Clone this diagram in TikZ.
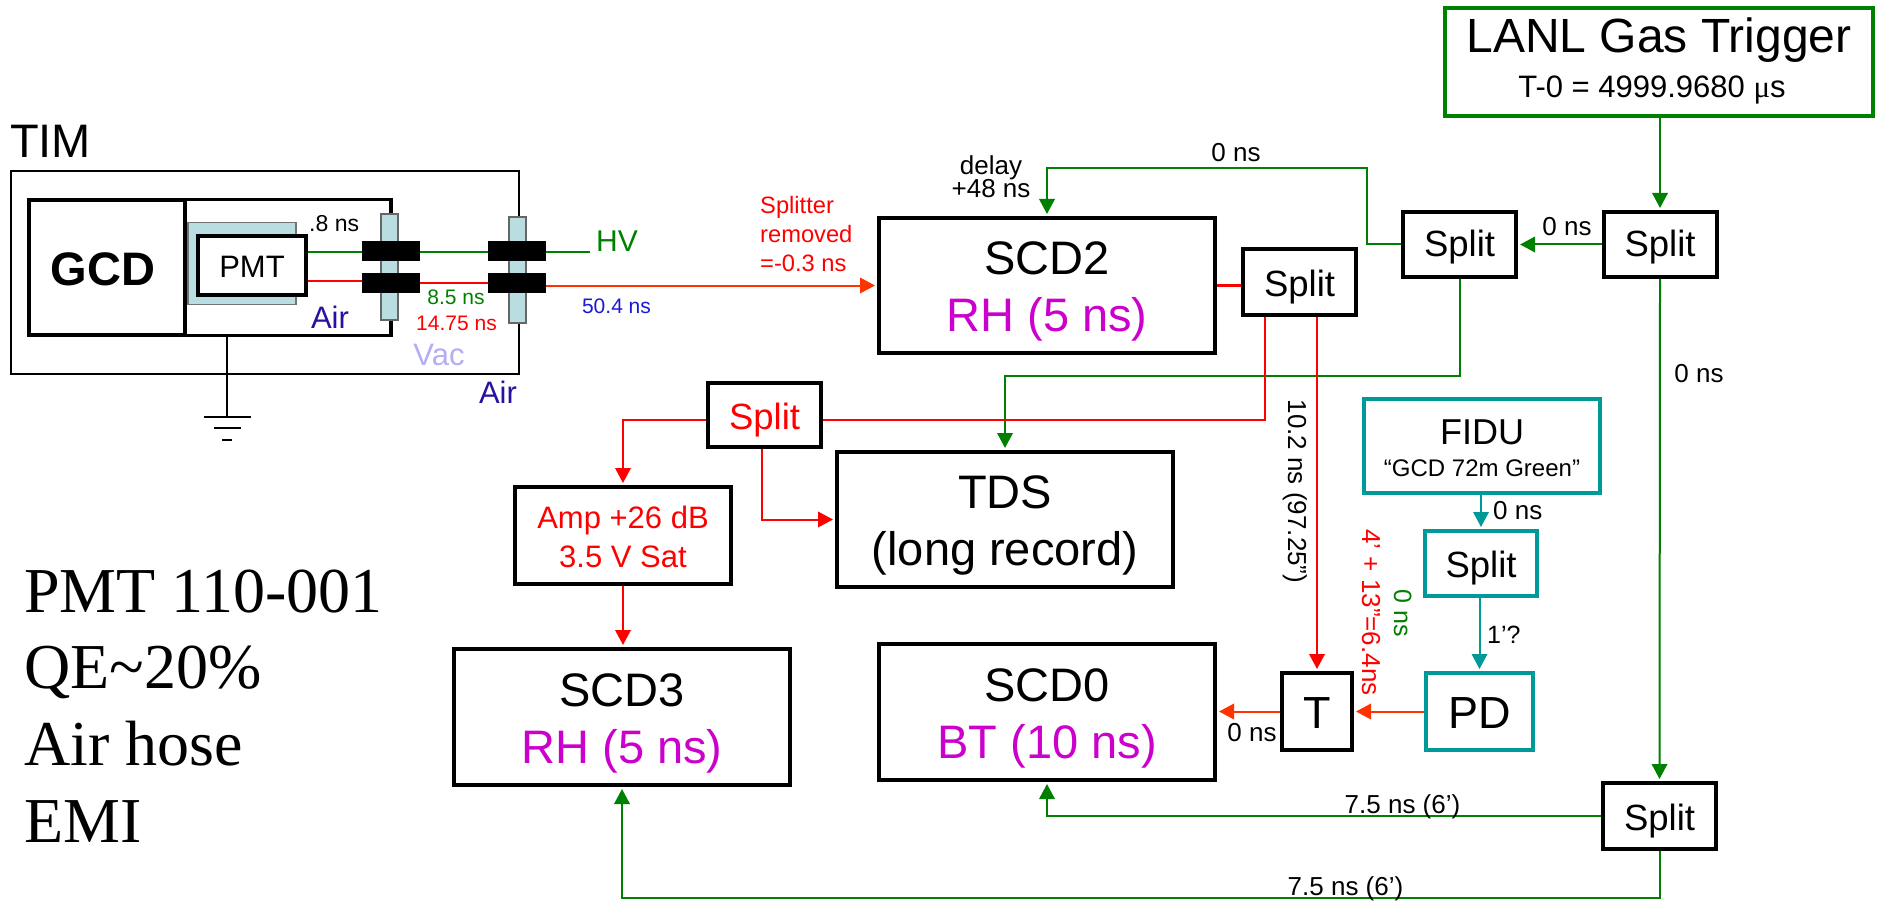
\documentclass[tikz,border=0pt]{standalone}
\usepackage{fontspec}
\setmainfont{Liberation Sans}
\newfontfamily\serifface{Liberation Serif}
\usetikzlibrary{arrows.meta,calc}
\definecolor{gr}{HTML}{008000}
\definecolor{rd}{HTML}{FF0000}
\definecolor{og}{HTML}{FF3300}
\definecolor{tl}{HTML}{009999}
\definecolor{mg}{HTML}{CC00CC}
\definecolor{nv}{HTML}{2A109F}
\definecolor{bl}{HTML}{1A1AD0}
\definecolor{vc}{HTML}{B4AEF5}
\definecolor{lb}{HTML}{B9DDE1}
\newcommand{\fs}[1]{\fontsize{#1}{#1}\selectfont}
\newcommand{\lbl}[2]{\makebox[0pt]{\raisebox{#1pt}[0pt][0pt]{#2}}}
\tikzset{
  box/.style={draw=black,line width=4pt,fill=white,inner sep=0pt,rectangle},
  tealbox/.style={box,draw=tl},
  greenbox/.style={box,draw=gr},
  splitbox/.style={box,minimum width=113pt,minimum height=65pt,font=\fs{36.5}},
  scdbox/.style={box,minimum width=336pt,minimum height=136pt,font=\fs{47}},
  bar/.style={draw=black!60,line width=2pt,fill=lb,inner sep=0pt,rectangle,minimum width=17pt},
  block/.style={fill=black,inner sep=0pt,rectangle,minimum width=58pt,minimum height=20pt},
  txt/.style={inner sep=0pt,anchor=base},
  txtw/.style={inner sep=0pt,anchor=base west},
  wire/.style={line width=2pt},
  arr/.style={wire,-{Triangle[length=15pt,width=15.5pt]},shorten >=2pt},
}
\begin{document}
\begin{tikzpicture}[x=1pt,y=-1pt]
\useasboundingbox (0,0) rectangle (1881,901);
\fill[white] (0,0) rectangle (1881,901);

% TIM housing
\coordinate (timA) at (519,216);
\coordinate (timB) at (519,324);
\draw[line width=1.8pt] (timA) -- (519,171) -- (11,171) -- (11,374) -- (519,374) -- (timB);
\node[txtw,font=\fs{47}] (tim) at (10,158) {TIM};

% GCD enclosure
\draw[line width=3.5pt] (391,213) -- (391,199.5) -- (187,199.5);
\draw[line width=3.5pt] (391,321) -- (391,335.5) -- (187,335.5);
\node[box,minimum width=156pt,minimum height=135pt,font=\bfseries\fs{47}] (gcd) at (107,267.5) {\lbl{-17.5}{\hspace*{-8pt}GCD}};
\node[inner sep=0pt,draw=black!55,line width=1.5pt,fill=lb,minimum width=108pt,minimum height=82pt] (shield) at (242,263.5) {};
\node[box,minimum width=108pt,minimum height=59pt,font=\fs{31}] (pmt) at (252,265.5) {\lbl{-11.5}{PMT}};

% Ground
\coordinate (gtop) at (227,337);
\coordinate (g0) at (227,417);
\draw[line width=1.8pt] (gtop) -- (g0);
\draw[line width=2pt] (204,417) -- (251,417) (214,428) -- (241,428) (222,440) -- (232,440);

% Feedthroughs
\node[bar,minimum height=106pt] (bara) at (389.5,267) {};
\node[bar,minimum height=106pt] (barb) at (517.5,270) {};
\node[block] (b1g) at (391,251) {};
\node[block] (b1r) at (391,283) {};
\node[block] (b2g) at (517,251) {};
\node[block] (b2r) at (517,283) {};

% HV and signal wires
\coordinate (hvend) at (590,252);
\coordinate (r1) at (308,281);
\coordinate (r2) at (362,281);
\draw[gr,wire] (pmt.east |- hvend) -- (b1g.west |- hvend);
\draw[gr,wire] (b1g.east |- hvend) -- (b2g.west |- hvend);
\draw[gr,wire] (b2g.east |- hvend) -- (hvend);
\draw[rd,wire] (r1) -- (r2);
\draw[rd,wire] (b1r.east) -- (b2r.west);

% Labels, left part
\node[txtw,gr,font=\fs{30}] (hv) at (596,252) {HV};
\node[txtw,font=\fs{23}] (t8) at (309,232) {.8 ns};
\node[txt,gr,font=\fs{21}] (t85) at (456,304) {8.5 ns};
\node[txt,rd,font=\fs{21}] (t147) at (456.5,330) {14.75 ns};
\node[txt,bl,font=\fs{21}] (t504) at (616.5,313) {50.4 ns};
\node[txt,nv,font=\fs{31}] (air1) at (330,328) {Air};
\node[txt,vc,font=\fs{31}] (vac) at (439,365) {Vac};
\node[txt,nv,font=\fs{31}] (air2) at (498,403) {Air};
\node[txtw,rd,font=\fs{23.7}] (sp1) at (760,214) {Splitter};
\node[txtw,rd,font=\fs{23.7}] (sp2) at (760,243) {removed};
\node[txtw,rd,font=\fs{23.7}] (sp3) at (760,272) {=-0.3 ns};

% Left notes
\node[txtw,font=\serifface\fs{64}] (n1) at (24,612) {PMT 110-001};
\node[txtw,font=\serifface\fs{64}] (n2) at (24,688) {QE\char`\~20\%};
\node[txtw,font=\serifface\fs{64}] (n3) at (24,765) {Air hose};
\node[txtw,font=\serifface\fs{64}] (n4) at (24,842) {EMI};

% Main boxes
\node[greenbox,minimum width=428pt,minimum height=108pt] (lanl) at (1659,62)
  {\fs{48}\lbl{9}{LANL Gas Trigger}\fs{31}\lbl{-36}{\hspace*{-14pt}T-0 = 4999.9680 {\serifface μ}s}};
\node[splitbox] (split3) at (1660,244.5) {\lbl{-12.5}{Split}};
\node[splitbox] (split2) at (1459.5,244.5) {\lbl{-12.5}{Split}};
\node[splitbox,minimum height=66pt] (split1) at (1299.5,282) {\lbl{-14}{Split}};
\node[splitbox,minimum height=66pt] (split4) at (1659.5,816) {\lbl{-14}{Split}};
\node[splitbox,minimum height=64pt,text=rd] (split5) at (764.5,415) {\lbl{-14}{Split}};
\node[scdbox,minimum height=135pt] (scd2) at (1047,285.5) {\lbl{11.5}{SCD2}\lbl{-45.5}{\color{mg}RH (5 ns)}};
\node[scdbox] (scd0) at (1047,712) {\lbl{11}{SCD0}\lbl{-46}{\color{mg}BT (10 ns)}};
\node[scdbox] (scd3) at (622,717) {\lbl{11}{SCD3}\lbl{-46}{\color{mg}RH (5 ns)}};
\node[scdbox,minimum height=135pt] (tds) at (1005,519.5) {\lbl{11.5}{TDS}\lbl{-45.5}{(long record)}};
\node[box,minimum width=216pt,minimum height=97pt,font=\fs{31},text=rd] (amp) at (623,535.5) {\lbl{7.5}{Amp +26 dB}\lbl{-31.5}{3.5 V Sat}};
\node[box,minimum width=70pt,minimum height=77pt,font=\fs{45}] (tb) at (1317,711.5) {\lbl{-16.5}{T}};
\node[tealbox,minimum width=107pt,minimum height=77pt,font=\fs{45}] (pd) at (1479.5,711.5) {\lbl{-16.5}{PD}};
\node[tealbox,minimum width=236pt,minimum height=94pt] (fidu) at (1482,446) {\fs{36}\lbl{2}{FIDU}\fs{24}\lbl{-30}{“GCD 72m Green”}};
\node[tealbox,minimum width=112pt,minimum height=65pt,font=\fs{36.5}] (splitt) at (1481,563.5) {\lbl{-13.5}{Split}};

% Green connectors
\coordinate (g1) at (1367,168);
\coordinate (g2) at (1005,376);
\coordinate (g3) at (622,898);
\draw[gr,arr] (lanl.south -| split3.north) -- (split3.north);
\draw[gr,arr] (split3.west) -- (split2.east);
\draw[gr,arr] (split2.west) -- (split2.west -| g1) -- (g1) -- (g1 -| scd2.north) -- (scd2.north);
\draw[gr,arr] (split2.south) |- (g2) -- (tds.north);
\draw[gr,arr] (split3.south) -- (split4.north);
\draw[gr,arr] (split4.west) -| (scd0.south);
\draw[gr,arr] (split4.south) |- (g3) -- (scd3.south);

% Red connectors
\coordinate (r3) at (1265,420);
\coordinate (r4) at (762,519.5);
\draw[og,arr] (b2r.east |- scd2.west) -- (scd2.west);
\draw[rd,line width=2.5pt] (scd2.east) -- (split1.west |- scd2.east);
\draw[rd,wire] (split1.south -| r3) -- (r3) -- (split5.east |- r3);
\draw[rd,arr] (split1.south -| tb.north) -- (tb.north);
\draw[rd,arr] (split5.west |- r3) -| (amp.north);
\draw[rd,arr] (r4 |- split5.south) -- (r4) -- (tds.west);
\draw[rd,arr] (amp.south) -- (amp.south |- scd3.north);

% Orange and teal connectors
\draw[og,arr] (pd.west) -- (tb.east);
\draw[og,arr] (tb.west) -- (tb.west -| scd0.east);
\draw[tl,arr] (splitt.north |- fidu.south) -- (splitt.north);
\draw[tl,arr] (pd.north |- splitt.south) -- (pd.north);

% Connector labels
\node[txt,font=\fs{26}] (dl1) at (991,175) {delay};
\node[txt,font=\fs{26}] (dl2) at (991,198) {+48 ns};
\node[txt,font=\fs{26}] (z1) at (1236,162) {0 ns};
\node[txt,font=\fs{26}] (z2) at (1567,236) {0 ns};
\node[txt,font=\fs{26}] (z3) at (1699,382) {0 ns};
\node[txtw,font=\fs{26}] (z4) at (1493,519) {0 ns};
\node[txtw,font=\fs{25}] (q1) at (1487,643) {1’?};
\node[txt,font=\fs{26}] (z5) at (1252,741) {0 ns};
\node[txt,font=\fs{26}] (s1) at (1402.5,813) {7.5 ns (6’)};
\node[txt,font=\fs{26}] (s2) at (1345.5,895) {7.5 ns (6’)};
\node[txt,rotate=-90,font=\fs{26}] (c1) at (1288,491.5) {10.2 ns (97.25”)};
\node[txt,rotate=-90,rd,font=\fs{26}] (c2) at (1362,612.5) {4’ + 13”=6.4ns};
\node[txt,rotate=-90,gr,font=\fs{25}] (c3) at (1394,613) {0 ns};
\end{tikzpicture}
\end{document}
